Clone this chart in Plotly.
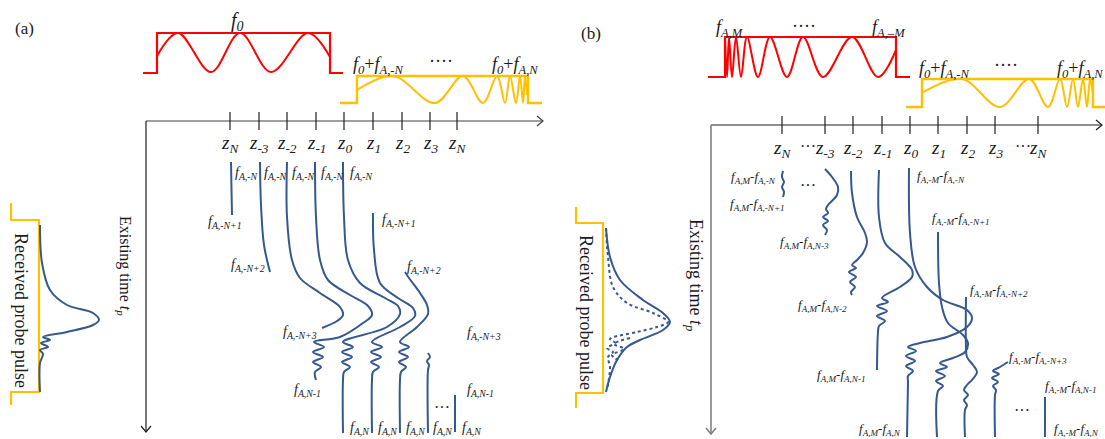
import plotly.graph_objects as go

W, H = 1105, 439
RED = "#FF0000"
YEL = "#FFC000"
BLUE = "#35588F"
AXC = "#404040"
GRAY = "#808080"
TXT = "#1a1a1a"
SERIF = "Liberation Serif, Times New Roman, serif"

# ---------------- panel (a) axis ----------------
za_x = [230, 259, 287, 316, 344, 373, 402, 430, 457]
za_sub = ["N", "-3", "-2", "-1", "0", "1", "2", "3", "N"]
# ---------------- panel (b) axis ----------------
zb_x = [782, 825, 853, 882, 910, 938, 967, 995, 1038]
zb_sub = ["N", "-3", "-2", "-1", "0", "1", "2", "3", "N"]

# ---------------- pump / probe pulses ----------------
red_a_box_x = [143, 157, 157, 330, 330, 343]
red_a_box_y = [73, 73, 33, 33, 73, 73]
red_a_wave_x = [157, 178, 211, 240, 271, 308, 330]
red_a_wave_y = [56, 33, 72, 33, 72, 33, 57]

yel_a_box_x = [340, 357, 357, 528, 528, 542]
yel_a_box_y = [103, 103, 76, 76, 103, 103]
yel_a_wave_x = [357, 393, 435, 463, 483, 497, 505, 510, 516, 520, 523, 525, 527]
yel_a_wave_y = [90, 76, 103, 76, 103, 76, 103, 76, 103, 76, 103, 76, 95]

red_b_box_x = [708, 725, 725, 896, 896, 910]
red_b_box_y = [77, 77, 37, 37, 77, 77]
red_b_wave_x = [725, 727, 729, 732, 736, 741, 747, 758, 770, 787, 803, 823, 852, 878, 896]
red_b_wave_y = [37, 77, 37, 77, 37, 77, 37, 77, 37, 77, 37, 77, 37, 77, 50]

yel_b_box_x = [906, 922, 922, 1093, 1093, 1105]
yel_b_box_y = [107, 107, 79, 79, 107, 107]
yel_b_wave_x = [922, 962, 1000, 1029, 1048, 1060, 1067, 1073, 1078, 1083, 1087, 1090, 1093]
yel_b_wave_y = [93, 79, 107, 79, 107, 79, 107, 79, 107, 79, 107, 79, 95]

# ---------------- received probe pulse brackets ----------------
brk_a_x = [11, 11, 39, 39, 11, 11]
brk_a_y = [203, 220, 220, 392, 392, 405]
brk_b_x = [576, 576, 603, 603, 576, 576]
brk_b_y = [207, 223, 223, 393, 393, 408]

rcv_a_x = [40, 42, 50, 67, 93, 99, 93, 67, 43, 50, 41, 48, 40, 43, 40, 40]
rcv_a_y = [225, 263, 290, 305, 313, 320, 325, 332, 337, 340, 343, 347, 350, 354, 363, 392]

rcv_b_x = [606, 610, 620, 643, 663, 670, 663, 640, 627, 617, 610, 606]
rcv_b_y = [228, 257, 280, 300, 313, 322, 330, 340, 347, 360, 377, 392]
rcv_b_dot1_x = [606, 608, 613, 627, 653, 668, 657, 637, 610, 615, 607, 613, 608, 610, 607]
rcv_b_dot1_y = [228, 257, 287, 303, 313, 322, 327, 332, 339, 343, 348, 352, 357, 367, 390]
rcv_b_dot2_x = [630, 614, 624, 612, 618]
rcv_b_dot2_y = [338, 344, 349, 355, 360]

# ---------------- blue traces, panel (a) ----------------
a1_x = [231, 231.5, 232]
a1_y = [162, 190, 215]
a2_x = [260, 261, 264, 270]
a2_y = [162, 205, 245, 272]
a3_x = [287, 287, 292, 300, 320, 340, 343, 337, 322]
a3_y = [162, 217, 260, 278, 293, 307, 315, 321, 328]
a4_x = [315, 316, 320, 328, 350, 368, 372, 363, 340, 314, 324, 313, 323, 313, 321, 315, 316]
a4_y = [162, 217, 260, 280, 295, 306, 315, 323, 337, 342, 347, 352, 357, 362, 367, 372, 380]
a5_x = [343, 344, 348, 360, 385, 398, 400, 387, 343, 353, 342, 352, 342, 350, 344, 343, 343]
a5_y = [162, 217, 260, 283, 298, 306, 314, 327, 342, 347, 352, 357, 362, 367, 372, 380, 433]
a6_x = [373, 374, 380, 398, 413, 415, 400, 372, 382, 371, 381, 371, 379, 373, 372, 372]
a6_y = [213, 250, 283, 298, 308, 316, 327, 342, 347, 352, 357, 362, 367, 372, 380, 433]
a7_x = [405, 409, 420, 427, 428, 417, 400, 409, 399, 408, 399, 406, 401, 400, 400]
a7_y = [272, 278, 293, 305, 314, 327, 342, 347, 352, 357, 362, 367, 372, 380, 433]
a8_x = [428, 430, 427, 429, 428, 428]
a8_y = [353, 357, 361, 365, 370, 433]
a9_x = [455, 455]
a9_y = [395, 432]

# ---------------- blue traces, panel (b) ----------------
b1_x = [783, 782, 784, 782, 784, 783]
b1_y = [171, 177, 182, 187, 192, 197]
b2_x = [825, 832, 838, 837, 828, 826, 828, 823, 828, 823, 827, 825]
b2_y = [169, 177, 187, 195, 205, 209, 213, 217, 221, 225, 230, 235]
b3_x = [851, 852, 857, 865, 867, 863, 857, 852, 856, 849, 856, 850, 855, 851, 852]
b3_y = [171, 193, 217, 233, 242, 253, 260, 265, 268, 272, 277, 282, 287, 292, 295]
b4_x = [879, 879, 885, 900, 912, 912, 900, 882, 888, 877, 887, 877, 885, 879, 878, 877]
b4_y = [170, 217, 243, 257, 270, 277, 287, 298, 302, 306, 311, 316, 321, 326, 332, 370]
b5_x = [909, 910, 915, 927, 943, 967, 972, 967, 947, 920, 908, 916, 906, 915, 906, 913, 908, 908, 907]
b5_y = [168, 233, 267, 287, 300, 310, 318, 327, 337, 343, 347, 351, 356, 361, 366, 371, 376, 382, 437]
b6_x = [938, 939, 942, 948, 963, 968, 965, 953, 940, 947, 936, 945, 936, 943, 938, 937]
b6_y = [232, 283, 307, 323, 335, 343, 352, 358, 363, 367, 371, 376, 381, 386, 391, 437]
b7_x = [966, 966, 967, 973, 977, 972, 967, 964, 968, 964, 967, 965, 965]
b7_y = [297, 347, 357, 365, 372, 380, 385, 390, 395, 400, 405, 410, 437]
b8_x = [1008, 1000, 993, 999, 992, 998, 993, 996, 995, 995]
b8_y = [362, 367, 371, 374, 378, 382, 386, 390, 395, 437]
b9_x = [1045, 1045]
b9_y = [397, 437]

# ---------------- labels ----------------
a_top_sub = ["A,-N"] * 5
a_top_x = [233, 262, 290, 319, 348]
a_bot_x = [348, 376, 404, 431, 460]

fig = go.Figure()


def line(xs, ys, color, width, shape="linear", dash="solid"):
    fig.add_trace(go.Scatter(
        x=xs, y=ys, mode="lines",
        line=dict(color=color, width=width, shape=shape, smoothing=1, dash=dash),
        hoverinfo="skip", showlegend=False))


def text(x, y, s, size=14, xanchor="center", angle=0, color=TXT):
    fig.add_annotation(x=x, y=y, xref="x", yref="y", text=s, showarrow=False,
                       xanchor=xanchor, yanchor="middle", textangle=angle,
                       font=dict(family=SERIF, size=size, color=color))


def f(sub):
    return f"<i>f</i><sub><i>{sub}</i></sub>"


def z(sub):
    return f"<i>z</i><sub><i>{sub}</i></sub>"


def ticks(xs, y0, y1, color):
    tx, ty = [], []
    for xv in xs:
        tx += [xv, xv, None]
        ty += [y0, y1, None]
    line(tx, ty, color, 1.2)


# ---- axes (a)
line([146, 543], [121, 121], AXC, 1.2)
line([537, 543, 537], [116, 121, 126], AXC, 1.2)
line([146, 146], [121, 432], "#202020", 1.2)
line([141, 146, 151], [426, 432, 426], "#202020", 1.2)
ticks(za_x, 112, 130, "#202020")
for xv, s in zip(za_x, za_sub):
    text(xv, 144, z(s), size=19)

# ---- axes (b)
line([711, 1102], [125, 125], "#202020", 1.2)
line([1096, 1102, 1096], [120, 125, 130], "#202020", 1.2)
line([711, 711], [125, 434], GRAY, 1.6)
line([706, 711, 716], [428, 434, 428], GRAY, 1.6)
ticks(zb_x, 116, 134, "#202020")
for xv, s in zip(zb_x, zb_sub):
    text(xv, 149, z(s), size=19)
text(808, 146, "···", size=16)
text(1023, 146, "···", size=16)

# ---- pulses
line(red_a_box_x, red_a_box_y, RED, 2.2)
line(red_a_wave_x, red_a_wave_y, RED, 2, "spline")
line(yel_a_box_x, yel_a_box_y, YEL, 2.4)
line(yel_a_wave_x, yel_a_wave_y, YEL, 2, "spline")
line(red_b_box_x, red_b_box_y, RED, 2.2)
line(red_b_wave_x, red_b_wave_y, RED, 2, "spline")
line(yel_b_box_x, yel_b_box_y, YEL, 2.4)
line(yel_b_wave_x, yel_b_wave_y, YEL, 2, "spline")

text(237, 21, "<i>f</i><sub><i>0</i></sub>", size=20)
text(378, 65, "<i>f</i><sub><i>0</i></sub>+" + f("A,-N"), size=18)
text(441, 61, "····", size=18)
text(515, 65, "<i>f</i><sub><i>0</i></sub>+" + f("A,N"), size=18)
text(730, 28, f("A,M"), size=18)
text(804, 26, "····", size=18)
text(889, 28, f("A,–M"), size=18)
text(944, 69, "<i>f</i><sub><i>0</i></sub>+" + f("A,-N"), size=18)
text(1006, 65, "····", size=18)
text(1080, 69, "<i>f</i><sub><i>0</i></sub>+" + f("A,N"), size=18)

# ---- received probe pulses
line(brk_a_x, brk_a_y, YEL, 2.2)
line(brk_b_x, brk_b_y, YEL, 2.2)
line(rcv_a_x, rcv_a_y, BLUE, 2, "spline")
line(rcv_b_x, rcv_b_y, BLUE, 2, "spline")
line(rcv_b_dot1_x, rcv_b_dot1_y, BLUE, 2, "spline", "dot")
line(rcv_b_dot2_x, rcv_b_dot2_y, BLUE, 2, "spline", "dot")
text(21, 310, "Received probe pulse", size=18, angle=90)
text(586, 312, "Received probe pulse", size=18, angle=90)
text(125, 266, "Existing time <i>t</i><sub><i>p</i></sub>", size=16, angle=90)
text(695, 275, "Existing time <i>t</i><sub><i>p</i></sub>", size=18, angle=90)

# ---- panel labels
text(24, 28, "(a)", size=17)
text(591, 33, "(b)", size=17)

# ---- blue curves (a)
for xs, ys in [(a1_x, a1_y), (a2_x, a2_y), (a3_x, a3_y), (a4_x, a4_y), (a5_x, a5_y),
               (a6_x, a6_y), (a7_x, a7_y), (a8_x, a8_y), (a9_x, a9_y)]:
    line(xs, ys, BLUE, 2, "spline")

for xv, s in zip(a_top_x, a_top_sub):
    text(xv, 173, f(s), size=14, xanchor="left")
text(225, 222, f("A,-N+1"), size=14)
text(248, 265, f("A,-N+2"), size=14)
text(300, 332, f("A,-N+3"), size=14)
text(307, 390, f("A,N-1"), size=14)
text(380, 220, f("A,-N+1"), size=14, xanchor="left")
text(405, 267, f("A,-N+2"), size=14, xanchor="left")
text(465, 333, f("A,-N+3"), size=14, xanchor="left")
text(465, 390, f("A,N-1"), size=14, xanchor="left")
for xv in a_bot_x:
    text(xv, 428, f("A,N"), size=14, xanchor="left")
text(442, 407, "···", size=16)

# ---- blue curves (b)
for xs, ys in [(b1_x, b1_y), (b2_x, b2_y), (b3_x, b3_y), (b4_x, b4_y), (b5_x, b5_y),
               (b6_x, b6_y), (b7_x, b7_y), (b8_x, b8_y), (b9_x, b9_y)]:
    line(xs, ys, BLUE, 2, "spline")


def ff(a, b):
    return f(a) + "-" + f(b)


text(753, 177, ff("A,M", "A,-N"), size=13)
text(757, 204, ff("A,M", "A,-N+1"), size=13)
text(808, 185, "···", size=16)
text(804, 242, ff("A,M", "A,N-3"), size=13)
text(822, 305, ff("A,M", "A,N-2"), size=13)
text(841, 375, ff("A,M", "A,N-1"), size=13)
text(880, 429, ff("A,M", "A,N"), size=13)
text(915, 176, ff("A,-M", "A,-N"), size=13, xanchor="left")
text(930, 218, ff("A,-M", "A,-N+1"), size=13, xanchor="left")
text(968, 290, ff("A,-M", "A,-N+2"), size=13, xanchor="left")
text(1007, 357, ff("A,-M", "A,-N+3"), size=13, xanchor="left")
text(1043, 386, ff("A,-M", "A,N-1"), size=13, xanchor="left")
text(1052, 429, ff("A,-M", "A,N"), size=13, xanchor="left")
text(1022, 410, "···", size=16)

fig.update_layout(
    width=W, height=H, margin=dict(l=0, r=0, t=0, b=0),
    paper_bgcolor="white", plot_bgcolor="white",
    xaxis=dict(range=[0, W], visible=False, fixedrange=True),
    yaxis=dict(range=[H, 0], visible=False, fixedrange=True),
    showlegend=False,
)
fig.write_html("out.html")
